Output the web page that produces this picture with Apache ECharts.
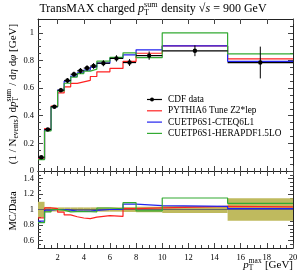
<!DOCTYPE html>
<html><head><meta charset="utf-8">
<script src="https://cdn.jsdelivr.net/npm/echarts@6/dist/echarts.min.js"></script>
<style>html,body{margin:0;padding:0;background:#fff}#c{width:304px;height:274px}</style>
</head><body><div id="c"></div>
<script>
// ---- data ----
const binLo = [0.5, 1, 1.5, 2, 2.5, 3, 3.5, 4, 4.5, 5, 6, 7, 8, 10, 15];
const binHi = [1, 1.5, 2, 2.5, 3, 3.5, 4, 4.5, 5, 6, 7, 8, 10, 15, 20];
const cdfData = [0.100, 0.300, 0.465, 0.585, 0.655, 0.700, 0.725, 0.745, 0.760, 0.780, 0.815, 0.785, 0.835, 0.870, 0.785];
const cdfErr  = [0.010, 0.010, 0.012, 0.016, 0.018, 0.019, 0.020, 0.020, 0.021, 0.022, 0.023, 0.025, 0.030, 0.039, 0.115];
const pythiaZ2 = [0.089, 0.306, 0.470, 0.565, 0.609, 0.634, 0.645, 0.656, 0.684, 0.718, 0.742, 0.793, 0.852, 0.905, 0.812];
const cuetCteq = [0.085, 0.297, 0.465, 0.585, 0.650, 0.686, 0.710, 0.730, 0.752, 0.780, 0.815, 0.840, 0.877, 0.905, 0.793];
const cuetHera = [0.083, 0.291, 0.465, 0.580, 0.635, 0.680, 0.705, 0.723, 0.737, 0.795, 0.823, 0.855, 0.820, 1.000, 0.848];
const xMajorTicks = [2, 4, 6, 8, 10, 12, 14, 16, 18, 20];
const xMinorTicks = [1, 1.5, 2.5, 3, 3.5, 4.5, 5, 5.5, 6.5, 7, 7.5, 8.5, 9, 9.5, 10.5, 11, 11.5, 12.5, 13, 13.5, 14.5, 15, 15.5, 16.5, 17, 17.5, 18.5, 19, 19.5];
const yMainMajor = [0, 0.2, 0.4, 0.6, 0.8, 1];
const yMainMinor = [0.05, 0.1, 0.15, 0.25, 0.3, 0.35, 0.45, 0.5, 0.55, 0.65, 0.7, 0.75, 0.85, 0.9, 0.95, 1.05];
const yRatioMajor = [0.6, 0.8, 1, 1.2, 1.4];
const yRatioMinor = [0.55, 0.65, 0.7, 0.75, 0.85, 0.9, 0.95, 1.05, 1.1, 1.15, 1.25, 1.3, 1.35, 1.45];

const FONT = '"Liberation Serif", "DejaVu Serif", serif';
const RED = '#f22', BLUE = '#22e', GREEN = '#3a3';

// ---- helpers ----
function steps(vals) {
  const out = [];
  vals.forEach((v, i) => { out.push([binLo[i], v]); out.push([binHi[i], v]); });
  return out;
}
const ratio = arr => arr.map((v, i) => v / cdfData[i]);

const ctx = document.createElement('canvas').getContext('2d');
function tw(t, size, it) { ctx.font = (it ? 'italic ' : '') + size + 'px ' + FONT; return ctx.measureText(t).width; }
function mathText(parts, size, x, y, align, rotation) {
  let cx = 0; const els = [];
  const mk = (t, px, py, s, it) => ({ type: 'text', x: px, y: py, style: { text: t, fontSize: s, fontFamily: FONT, fontStyle: it ? 'italic' : 'normal', fill: '#000', align: 'left', verticalAlign: 'middle', textAlign: 'left', textVerticalAlign: 'middle' } });
  parts.forEach(p => {
    if (p.sub !== undefined || p.sup !== undefined) {
      const s = size * 0.68; let ww = 0;
      if (p.sub) { els.push(mk(p.sub, cx, size * 0.28, s, false)); ww = Math.max(ww, tw(p.sub, s, false)); }
      if (p.sup) { els.push(mk(p.sup, cx, -size * 0.38, s, false)); ww = Math.max(ww, tw(p.sup, s, false)); }
      cx += ww + 0.5;
    } else {
      els.push(mk(p.t, cx, 0, size, p.it)); cx += tw(p.t, size, p.it);
    }
  });
  const off = align === 'center' ? -cx / 2 : align === 'right' ? -cx : 0;
  els.forEach(e => e.x += off);
  return { type: 'group', x, y, rotation: rotation || 0, children: els };
}

const XMIN = 0.5, XMAX = 20;
const tickCol = '#444';
function xAxes(gi, labels) {
  const base = { gridIndex: gi, type: 'value', min: XMIN, max: XMAX, splitLine: { show: false } };
  return [
    Object.assign({}, base, { position: 'bottom', axisLine: { show: true, onZero: false, lineStyle: { color: '#222', width: 1 } },
      axisTick: { show: true, inside: true, length: 5, customValues: xMajorTicks, lineStyle: { color: tickCol } },
      axisLabel: { show: labels, customValues: xMajorTicks, fontFamily: FONT, fontSize: 8.5, color: '#000', margin: 5 } }),
    Object.assign({}, base, { position: 'bottom', axisLine: { show: false },
      axisTick: { show: true, inside: true, length: 3, customValues: xMinorTicks, lineStyle: { color: tickCol } }, axisLabel: { show: false } }),
    Object.assign({}, base, { position: 'top', axisLine: { show: true, onZero: false, lineStyle: { color: '#222', width: 1 } },
      axisTick: { show: true, inside: true, length: 5, customValues: xMajorTicks, lineStyle: { color: tickCol } }, axisLabel: { show: false } }),
    Object.assign({}, base, { position: 'top', axisLine: { show: false },
      axisTick: { show: true, inside: true, length: 3, customValues: xMinorTicks, lineStyle: { color: tickCol } }, axisLabel: { show: false } })
  ];
}
function yAxes(gi, min, max, major, minor, fmt) {
  const base = { gridIndex: gi, type: 'value', min, max, splitLine: { show: false } };
  return [
    Object.assign({}, base, { position: 'left', axisLine: { show: true, onZero: false, lineStyle: { color: '#222', width: 1 } },
      axisTick: { show: true, inside: true, length: 5, customValues: major, lineStyle: { color: tickCol } },
      axisLabel: { show: true, customValues: major, fontFamily: FONT, fontSize: 8.5, color: '#000', margin: 4, formatter: fmt } }),
    Object.assign({}, base, { position: 'left', axisLine: { show: false },
      axisTick: { show: true, inside: true, length: 3, customValues: minor, lineStyle: { color: tickCol } }, axisLabel: { show: false } }),
    Object.assign({}, base, { position: 'right', axisLine: { show: true, onZero: false, lineStyle: { color: '#222', width: 1 } },
      axisTick: { show: true, inside: true, length: 5, customValues: major, lineStyle: { color: tickCol } }, axisLabel: { show: false } }),
    Object.assign({}, base, { position: 'right', axisLine: { show: false },
      axisTick: { show: true, inside: true, length: 3, customValues: minor, lineStyle: { color: tickCol } }, axisLabel: { show: false } })
  ];
}
const fmtNum = v => String(+v.toFixed(2));

function stepSeries(name, vals, color, gi) {
  return { name, type: 'line', xAxisIndex: gi * 4, yAxisIndex: gi * 4, data: steps(vals), showSymbol: false, symbol: 'none',
    lineStyle: { color, width: 1.2 }, itemStyle: { color }, animation: false, z: 3 };
}

const dataPts = binLo.map((lo, i) => [lo, binHi[i], cdfData[i], cdfErr[i]]);
const bandPts = binLo.map((lo, i) => [lo, binHi[i], cdfErr[i] / cdfData[i]]);
const ones = binLo.map(() => 1);

const option = {
  animation: false,
  grid: [
    { left: 38, right: 11, top: 19, height: 152 },
    { left: 38, right: 11, top: 171, height: 77 }
  ],
  xAxis: [...xAxes(0, false), ...xAxes(1, true)],
  yAxis: [...yAxes(0, 0, 1.1, yMainMajor, yMainMinor, fmtNum), ...yAxes(1, 0.5, 1.5, yRatioMajor, yRatioMinor, fmtNum)],
  series: [
    stepSeries('PYTHIA6 Tune Z2*lep', pythiaZ2, RED, 0),
    stepSeries('CUETP6S1-CTEQ6L1', cuetCteq, BLUE, 0),
    stepSeries('CUETP6S1-HERAPDF1.5LO', cuetHera, GREEN, 0),
    { name: 'CDF data', type: 'custom', xAxisIndex: 0, yAxisIndex: 0, data: dataPts, z: 5,
      encode: { x: [0, 1], y: 2 },
      renderItem(params, api) {
        const lo = api.value(0), hi = api.value(1), v = api.value(2), e = api.value(3), m = (lo + hi) / 2;
        const pc = api.coord([m, v]), pl = api.coord([lo, v]), ph = api.coord([hi, v]);
        const pt = api.coord([m, v + e]), pb = api.coord([m, v - e]);
        return { type: 'group', children: [
          { type: 'line', shape: { x1: pl[0], y1: pl[1], x2: ph[0], y2: ph[1] }, style: { stroke: '#000', lineWidth: 1.2 } },
          { type: 'line', shape: { x1: pt[0], y1: pt[1], x2: pb[0], y2: pb[1] }, style: { stroke: '#000', lineWidth: 1 } },
          { type: 'circle', shape: { cx: pc[0], cy: pc[1], r: 2.2 }, style: { fill: '#000' } }
        ] };
      } },
    { name: 'band', type: 'custom', xAxisIndex: 4, yAxisIndex: 4, data: bandPts, z: 1, clip: true,
      encode: { x: [0, 1], y: 2 },
      renderItem(params, api) {
        const lo = api.value(0), hi = api.value(1), e = api.value(2);
        const a = api.coord([lo, 1 + e]), b = api.coord([hi, 1 - e]);
        return { type: 'rect', shape: { x: a[0], y: a[1], width: b[0] - a[0], height: b[1] - a[1] }, style: { fill: '#bfba5e' } };
      } },
    Object.assign(stepSeries('data ratio', ones, '#666', 1), { lineStyle: { color: '#666', width: 1.2 }, z: 2 }),
    stepSeries('r1', ratio(pythiaZ2), RED, 1),
    stepSeries('r2', ratio(cuetCteq), BLUE, 1),
    stepSeries('r3', ratio(cuetHera), GREEN, 1)
  ],
  graphic: []
};

// title & labels
const g = option.graphic;
g.push(mathText([{ t: 'TransMAX charged ' }, { t: 'p', it: true }, { sub: 'T', sup: 'sum' }, { t: ' density ' }, { t: '√', it: false }, { t: 's', it: true }, { t: ' = 900 GeV' }], 12, 153, 9, 'center'));
g.push(mathText([{ t: '(1 / N' }, { sub: 'events' }, { t: ') d' }, { t: 'p', it: true }, { sub: 'T', sup: 'sum' }, { t: ' / d' }, { t: 'η', it: true }, { t: ' d' }, { t: 'φ', it: true }, { t: ' [GeV]' }], 11, 13, 94, 'center', Math.PI / 2));
g.push(mathText([{ t: 'MC/Data' }], 10.5, 13, 211, 'center', Math.PI / 2));
g.push(mathText([{ t: 'p', it: true }, { sub: 'T', sup: 'max' }, { t: ' [GeV]' }], 11, 293, 265, 'right'));

// legend
const legendItems = [
  { name: 'CDF data', color: '#000', dot: true },
  { name: 'PYTHIA6 Tune Z2*lep', color: RED },
  { name: 'CUETP6S1-CTEQ6L1', color: BLUE },
  { name: 'CUETP6S1-HERAPDF1.5LO', color: GREEN }
];
legendItems.forEach((it, i) => {
  const y = 99.5 + i * 11.3;
  g.push({ type: 'line', shape: { x1: 147, y1: y, x2: 162, y2: y }, style: { stroke: it.color, lineWidth: 1.2 } });
  if (it.dot) g.push({ type: 'circle', shape: { cx: 152, cy: y, r: 2 }, style: { fill: '#000' } });
  g.push(mathText([{ t: it.name }], 9.3, 168, y, 'left'));
});

const chart = echarts.init(document.getElementById('c'), null, { renderer: 'canvas', width: 304, height: 274 });
chart.setOption(option);
</script></body></html>
